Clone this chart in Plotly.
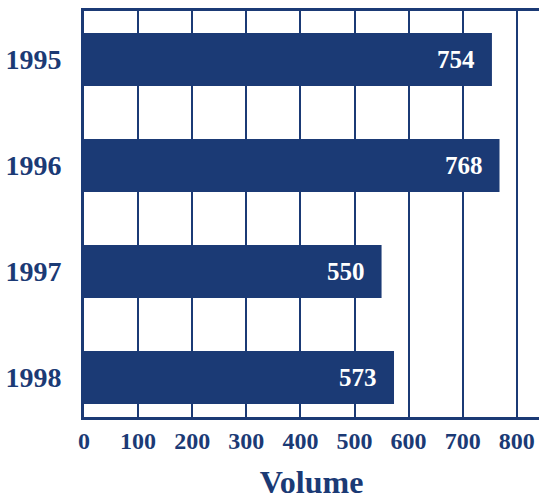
import plotly.graph_objects as go

# Annual volume by year
years = ["1995", "1996", "1997", "1998"]
volumes = [754, 768, 550, 573]
x_ticks = [0, 100, 200, 300, 400, 500, 600, 700, 800]

NAVY = "#1b3a75"
FONT = "Liberation Serif"

fig = go.Figure(
    go.Bar(
        x=volumes,
        y=years,
        orientation="h",
        marker=dict(color=NAVY, line=dict(width=0)),
        width=0.5,
    )
)

# value labels sit inside the bar end (category axis: position by index)
for i, v in enumerate(volumes):
    fig.add_annotation(
        x=v, y=i, text=str(v), showarrow=False,
        xanchor="right", xshift=-15,
        font=dict(family=FONT, size=25, color="white", weight="bold"),
    )

fig.update_layout(
    width=539,
    height=500,
    margin=dict(l=84, r=0, t=11, b=83),
    plot_bgcolor="white",
    paper_bgcolor="white",
    showlegend=False,
    font=dict(family=FONT, color=NAVY),
)

fig.update_xaxes(
    range=[0, 841],
    tickvals=x_ticks,
    ticktext=[str(t) for t in x_ticks],
    showgrid=True,
    gridcolor=NAVY,
    gridwidth=2,
    zeroline=False,
    showline=True,
    linecolor=NAVY,
    linewidth=3,
    mirror=True,
    ticks="",
    tickfont=dict(family=FONT, size=24, color=NAVY, weight="bold"),
    title=dict(text="Volume", font=dict(family=FONT, size=32, color=NAVY, weight="bold"), standoff=24),
)

fig.update_yaxes(
    type="category",
    categoryorder="array",
    categoryarray=years,
    range=[3.373, -0.4575],
    showgrid=False,
    zeroline=False,
    showline=True,
    linecolor=NAVY,
    linewidth=3,
    mirror=False,
    ticks="",
    ticklabelstandoff=14,
    tickfont=dict(family=FONT, size=28, color=NAVY, weight="bold"),
)

fig.write_html("out.html")
